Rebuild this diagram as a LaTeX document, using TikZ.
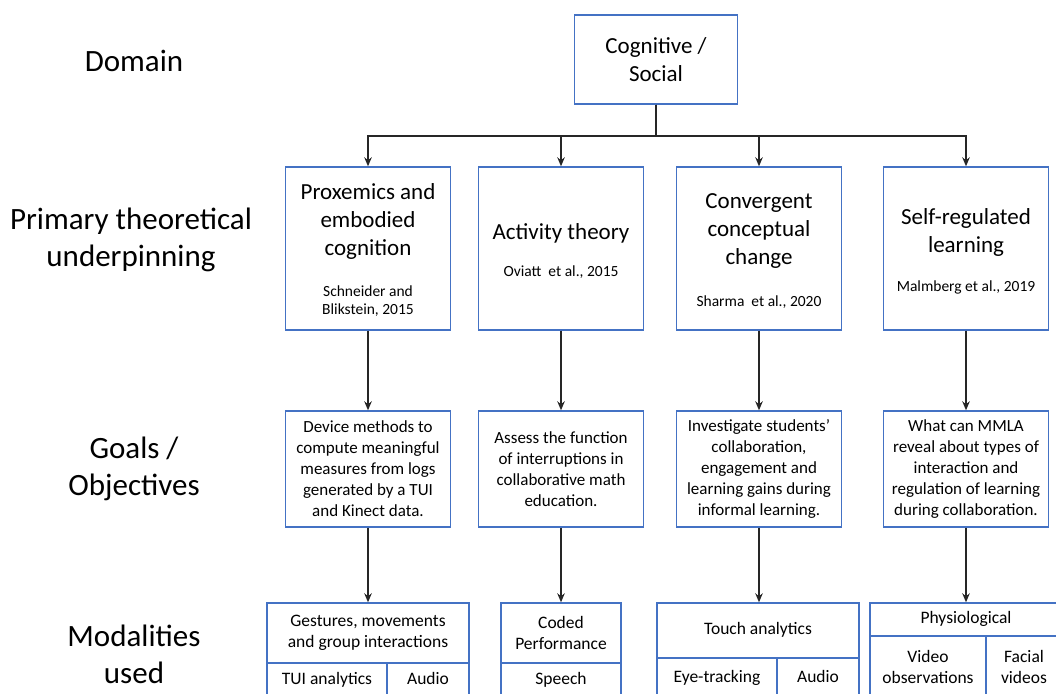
\documentclass[tikz,border=0pt]{standalone}
\usepackage{fontspec}
\setmainfont{Carlito}
\usepackage{xcolor}
\usepackage{tikz}
\usetikzlibrary{positioning,arrows.meta}
\definecolor{FrameBlue}{HTML}{4472C4}

\begin{document}
\begin{tikzpicture}[x=1pt,y=-1pt,every node/.style={inner sep=0pt}]

    \tikzstyle{box}=[draw=FrameBlue, line width=1.4pt, fill=white]
    \tikzstyle{rowlabel}=[align=center, font=\fontsize{31}{37}\selectfont]
    \tikzstyle{titletext}=[align=center, font=\fontsize{23}{28}\selectfont]
    \tikzstyle{citetext}=[align=center, font=\fontsize{15.5}{18.5}\selectfont]
    \tikzstyle{theory}=[box, minimum width=165pt, minimum height=163pt]
    \tikzstyle{goal}=[box, align=center, minimum width=165pt, minimum height=116pt,
      font=\fontsize{17}{21}\selectfont]
    \tikzstyle{cell}=[box, align=center, font=\fontsize{17.5}{21}\selectfont]
    \tikzstyle{onecell}=[cell, text height=12pt, text depth=4pt]
    \tikzstyle{arr}=[-{Stealth[length=9pt,width=7.5pt]}, line width=1.8pt, color=black!85]

    \clip (0,0) rectangle (1056,693);

    % --- Row labels ---
    \node[rowlabel] (lDomain) at (134,61) {Domain};
    \node[rowlabel] (lTheory) at (131,240) {Primary theoretical\\underpinning};
    \node[rowlabel] (lGoals) at (134,469) {Goals /\\Objectives};
    \node[rowlabel] (lModal) at (134,654) {Modalities\\used};

    % --- Domain ---
    \node[box, titletext, minimum width=163pt, minimum height=89pt] (dom) at (656,59.5)
      {Cognitive /\\Social};

    % --- Theories ---
    \node[theory] (prox) at (368,248.5) {};
    \node[titletext] (proxT) at (368,221) {Proxemics and\\embodied\\cognition};
    \node[citetext] (proxC) at (368,301) {Schneider and\\Blikstein, 2015};

    \node[theory] (activ) at (561,248.5) {};
    \node[titletext] (activT) at (561,233) {Activity theory};
    \node[citetext] (activC) at (561,272) {Oviatt\ \ et al., 2015};

    \node[theory] (conv) at (759,248.5) {};
    \node[titletext] (convT) at (759,231) {Convergent\\conceptual\\change};
    \node[citetext] (convC) at (759,302) {Sharma\ \ et al., 2020};

    \node[theory] (selfreg) at (966,248.5) {};
    \node[titletext] (selfregT) at (966,232) {Self-regulated\\learning};
    \node[citetext] (selfregC) at (966,287) {Malmberg et al., 2019};

    % --- Goals ---
    \node[goal] (proxG) at (368,469)
      {Device methods to\\compute meaningful\\measures from logs\\generated by a TUI\\and Kinect data.};
    \node[goal] (activG) at (561,469)
      {Assess the function\\of interruptions in\\collaborative math\\education.};
    \node[goal] (convG) at (759,469)
      {Investigate students'\\collaboration,\\engagement and\\learning gains during\\informal learning.};
    \node[goal] (selfregG) at (966,469)
      {What can MMLA\\reveal about types of\\interaction and\\regulation of learning\\during collaboration.};

    % --- Modalities ---
    \node[cell, minimum width=202pt, minimum height=60pt] (gest) at (368,633)
      {Gestures, movements\\and group interactions};
    \node[onecell, minimum width=120pt, minimum height=34pt] (tui) at (327,680) {TUI analytics};
    \node[onecell, minimum width=82pt, minimum height=34pt] (audioA) at (428,680) {Audio};

    \node[cell, minimum width=120pt, minimum height=60pt] (coded) at (561,633)
      {Coded\\Performance};
    \node[onecell, minimum width=120pt, minimum height=34pt] (speech) at (561,680) {Speech};

    \node[onecell, minimum width=202pt, minimum height=55pt] (touch) at (758,630.5) {Touch analytics};
    \node[onecell, minimum width=120pt, minimum height=40pt] (eye) at (717,678) {Eye-tracking};
    \node[onecell, minimum width=82pt, minimum height=40pt] (audioB) at (818,678) {Audio};

    \node[onecell, minimum width=192pt, minimum height=33pt] (physio) at (966,619.5) {Physiological};
    \node[cell, minimum width=116pt, minimum height=62pt] (video) at (928,667)
      {Video\\observations};
    \node[cell, minimum width=76pt, minimum height=62pt] (facial) at (1024,667)
      {Facial\\videos};

    % --- Domain to theories ---
    \draw[arr] (dom.south) -- ++(0,31) -| (prox.north);
    \draw[arr] (dom.south) -- ++(0,31) -| (activ.north);
    \draw[arr] (dom.south) -- ++(0,31) -| (conv.north);
    \draw[arr] (dom.south) -- ++(0,31) -| (selfreg.north);

    % --- Theories to goals ---
    \draw[arr] (prox.south) -- (prox.south |- proxG.north);
    \draw[arr] (activ.south) -- (activ.south |- activG.north);
    \draw[arr] (conv.south) -- (conv.south |- convG.north);
    \draw[arr] (selfreg.south) -- (selfreg.south |- selfregG.north);

    % --- Goals to modalities ---
    \draw[arr] (proxG.south) -- (proxG.south |- gest.north);
    \draw[arr] (activG.south) -- (activG.south |- coded.north);
    \draw[arr] (convG.south) -- (convG.south |- touch.north);
    \draw[arr] (selfregG.south) -- (selfregG.south |- physio.north);

\end{tikzpicture}
\end{document}
